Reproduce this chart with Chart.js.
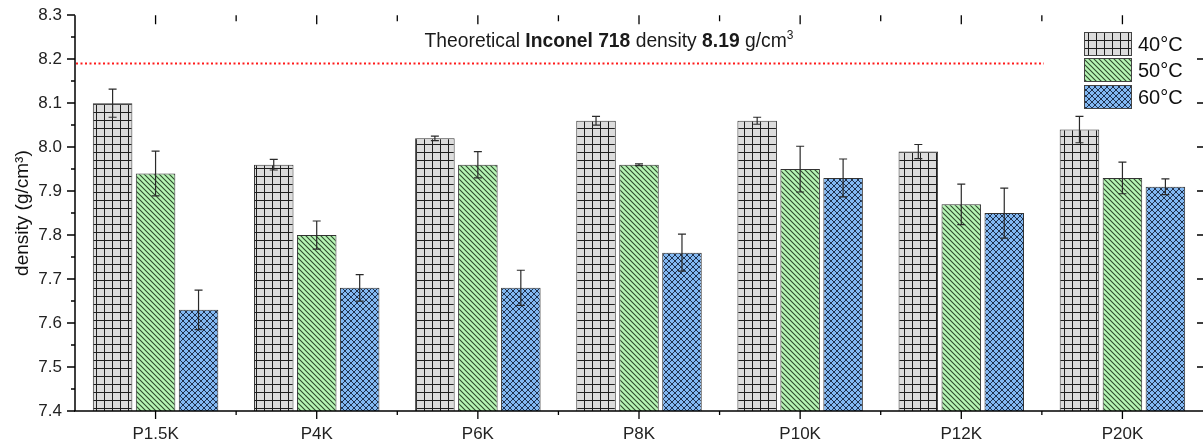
<!DOCTYPE html>
<html>
<head>
<meta charset="utf-8">
<script src="https://cdn.jsdelivr.net/npm/chart.js@4/dist/chart.umd.min.js"></script>
<style>
  html, body { margin: 0; padding: 0; background: #fff; }
  #wrap { width: 1203px; height: 447px; }
</style>
</head>
<body>
<div id="wrap"><canvas id="density-chart"></canvas></div>
<script>
    const categories = ['P1.5K', 'P4K', 'P6K', 'P8K', 'P10K', 'P12K', 'P20K'];
    const seriesLabels = ['40°C', '50°C', '60°C'];
    const density40 = [8.10, 7.96, 8.02, 8.06, 8.06, 7.99, 8.04];
    const error40 = [0.032, 0.012, 0.005, 0.010, 0.008, 0.016, 0.030];
    const density50 = [7.94, 7.80, 7.96, 7.96, 7.95, 7.87, 7.93];
    const error50 = [0.051, 0.032, 0.030, 0.002, 0.052, 0.046, 0.036];
    const density60 = [7.63, 7.68, 7.68, 7.76, 7.93, 7.85, 7.91];
    const error60 = [0.045, 0.030, 0.040, 0.042, 0.043, 0.057, 0.018];
    const theoreticalDensity = 8.19;

    const errors = [error40, error50, error60];

    // hatch fills like the original plot
    function makePattern(size, bg, draw) {
      const c = document.createElement('canvas');
      c.width = size;
      c.height = size;
      const g = c.getContext('2d');
      g.fillStyle = bg;
      g.fillRect(0, 0, size, size);
      draw(g, size);
      return g.createPattern(c, 'repeat');
    }

    const gridFill = makePattern(8, '#dcdcdc', (g, s) => {
      g.fillStyle = '#1e1e1e';
      g.fillRect(0, 0, s, 1);
      g.fillRect(0, 0, 1, s);
    });

    const stripeFill = makePattern(5, '#b6f5b4', (g, s) => {
      g.strokeStyle = '#2e4a2e';
      g.lineWidth = 1.1;
      g.beginPath();
      g.moveTo(-1, -1); g.lineTo(s + 1, s + 1);
      g.moveTo(-1, s - 1); g.lineTo(1, s + 1);
      g.moveTo(s - 1, -1); g.lineTo(s + 1, 1);
      g.stroke();
    });

    const crossFill = makePattern(6, '#82b8f2', (g, s) => {
      g.strokeStyle = '#14213a';
      g.lineWidth = 0.9;
      g.beginPath();
      g.moveTo(0, 0); g.lineTo(s, s);
      g.moveTo(s, 0); g.lineTo(0, s);
      g.stroke();
    });

    const fills = [gridFill, stripeFill, crossFill];

    const errorBars = {
      id: 'errorBars',
      afterDatasetsDraw(chart) {
        const ctx = chart.ctx;
        const y = chart.scales.y;
        ctx.save();
        ctx.strokeStyle = '#2a2a2a';
        ctx.lineWidth = 1.2;
        chart.data.datasets.forEach((ds, i) => {
          chart.getDatasetMeta(i).data.forEach((bar, j) => {
            const v = ds.data[j];
            const e = errors[i][j];
            const top = y.getPixelForValue(v + e);
            const bot = y.getPixelForValue(v - e);
            ctx.beginPath();
            ctx.moveTo(bar.x, top); ctx.lineTo(bar.x, bot);
            ctx.moveTo(bar.x - 4, top); ctx.lineTo(bar.x + 4, top);
            ctx.moveTo(bar.x - 4, bot); ctx.lineTo(bar.x + 4, bot);
            ctx.stroke();
          });
        });
        ctx.restore();
      }
    };

    const extras = {
      id: 'extras',
      afterDraw(chart) {
        const ctx = chart.ctx;
        const { left, right, top, bottom } = chart.chartArea;
        const x = chart.scales.x;
        const y = chart.scales.y;
        ctx.save();

        // theoretical density line
        const ly = y.getPixelForValue(theoreticalDensity);
        ctx.strokeStyle = '#ff1a1a';
        ctx.lineWidth = 2;
        ctx.setLineDash([2, 2.5]);
        ctx.beginPath();
        ctx.moveTo(left + 1, ly);
        ctx.lineTo(1044, ly);
        ctx.stroke();
        ctx.setLineDash([]);

        // annotation text with bold parts
        const parts = [
          ['Theoretical ', '19.3px "Liberation Sans"', 0],
          ['Inconel 718', 'bold 19.3px "Liberation Sans"', 0],
          [' density ', '19.3px "Liberation Sans"', 0],
          ['8.19', 'bold 19.3px "Liberation Sans"', 0],
          [' g/cm', '19.3px "Liberation Sans"', 0],
          ['3', '12px "Liberation Sans"', -8]
        ];
        let total = 0;
        parts.forEach(p => { ctx.font = p[1]; total += ctx.measureText(p[0]).width; });
        let tx = 609 - total / 2;
        ctx.fillStyle = '#1a1a1a';
        ctx.textBaseline = 'alphabetic';
        parts.forEach(p => {
          ctx.font = p[1];
          ctx.fillText(p[0], tx, 47 + p[2]);
          tx += ctx.measureText(p[0]).width;
        });

        // axes lines and ticks
        ctx.strokeStyle = '#000';
        ctx.lineWidth = 1.5;
        ctx.beginPath();
        ctx.moveTo(left, top); ctx.lineTo(left, bottom);
        ctx.moveTo(left - 1, bottom); ctx.lineTo(right, bottom);
        ctx.stroke();

        ctx.lineWidth = 1.3;
        ctx.beginPath();
        for (let k = 0; k <= 18; k++) {
          const v = 7.4 + k * 0.05;
          const py = Math.round(y.getPixelForValue(v));
          const major = k % 2 === 0;
          ctx.moveTo(left, py); ctx.lineTo(left - (major ? 8 : 4), py);
          if (major && k > 0 && k < 18) { ctx.moveTo(right, py); ctx.lineTo(right - 6, py); }
        }
        const step = x.getPixelForValue(1) - x.getPixelForValue(0);
        categories.forEach((c, i) => {
          const px = x.getPixelForValue(i);
          ctx.moveTo(px, bottom); ctx.lineTo(px, bottom + 8);
          ctx.moveTo(px, top); ctx.lineTo(px, top + 9);
          const bx = px + step / 2;
          if (bx < right - 2) {
            ctx.moveTo(bx, bottom); ctx.lineTo(bx, bottom + 4);
            ctx.moveTo(bx, top); ctx.lineTo(bx, top + 6);
          }
        });
        ctx.stroke();

        // legend
        const boxes = [[1084, 32], [1084, 58], [1084, 85]];
        boxes.forEach((b, i) => {
          ctx.fillStyle = fills[i];
          ctx.fillRect(b[0], b[1], 48, 24);
          ctx.strokeStyle = '#444';
          ctx.lineWidth = 1;
          ctx.strokeRect(b[0] + 0.5, b[1] + 0.5, 47, 23);
          ctx.fillStyle = '#111';
          ctx.font = '20px "Liberation Sans"';
          ctx.textBaseline = 'middle';
          ctx.fillText(seriesLabels[i], 1138, b[1] + 13);
        });

        ctx.restore();
      }
    };

    new Chart(document.getElementById('density-chart'), {
      type: 'bar',
      data: {
        labels: categories,
        datasets: [
          { label: seriesLabels[0], data: density40, backgroundColor: gridFill },
          { label: seriesLabels[1], data: density50, backgroundColor: stripeFill },
          { label: seriesLabels[2], data: density60, backgroundColor: crossFill }
        ].map(d => Object.assign(d, {
          borderColor: '#333',
          borderWidth: 1,
          borderSkipped: 'bottom',
          categoryPercentage: 0.8,
          barPercentage: 0.92
        }))
      },
      options: {
        responsive: true,
        maintainAspectRatio: false,
        animation: false,
        layout: { padding: { top: 9, right: 0, bottom: 0, left: 0 } },
        plugins: {
          legend: { display: false },
          tooltip: { enabled: false }
        },
        scales: {
          x: {
            grid: { display: false },
            border: { display: false },
            ticks: { color: '#222', font: { family: 'Liberation Sans', size: 17 }, padding: 5 },
            afterFit: s => { s.height = 36; }
          },
          y: {
            min: 7.4,
            max: 8.3,
            grid: { display: false },
            border: { display: false },
            ticks: {
              stepSize: 0.1,
              color: '#222',
              font: { family: 'Liberation Sans', size: 17 },
              padding: 5,
              callback: v => v.toFixed(1)
            },
            title: {
              display: true,
              text: 'density (g/cm³)',
              color: '#111',
              font: { family: 'Liberation Sans', size: 19 },
              padding: { top: 11, bottom: 4 }
            },
            afterFit: s => { s.width = 75; }
          }
        }
      },
      plugins: [errorBars, extras]
    });
</script>
</body>
</html>
